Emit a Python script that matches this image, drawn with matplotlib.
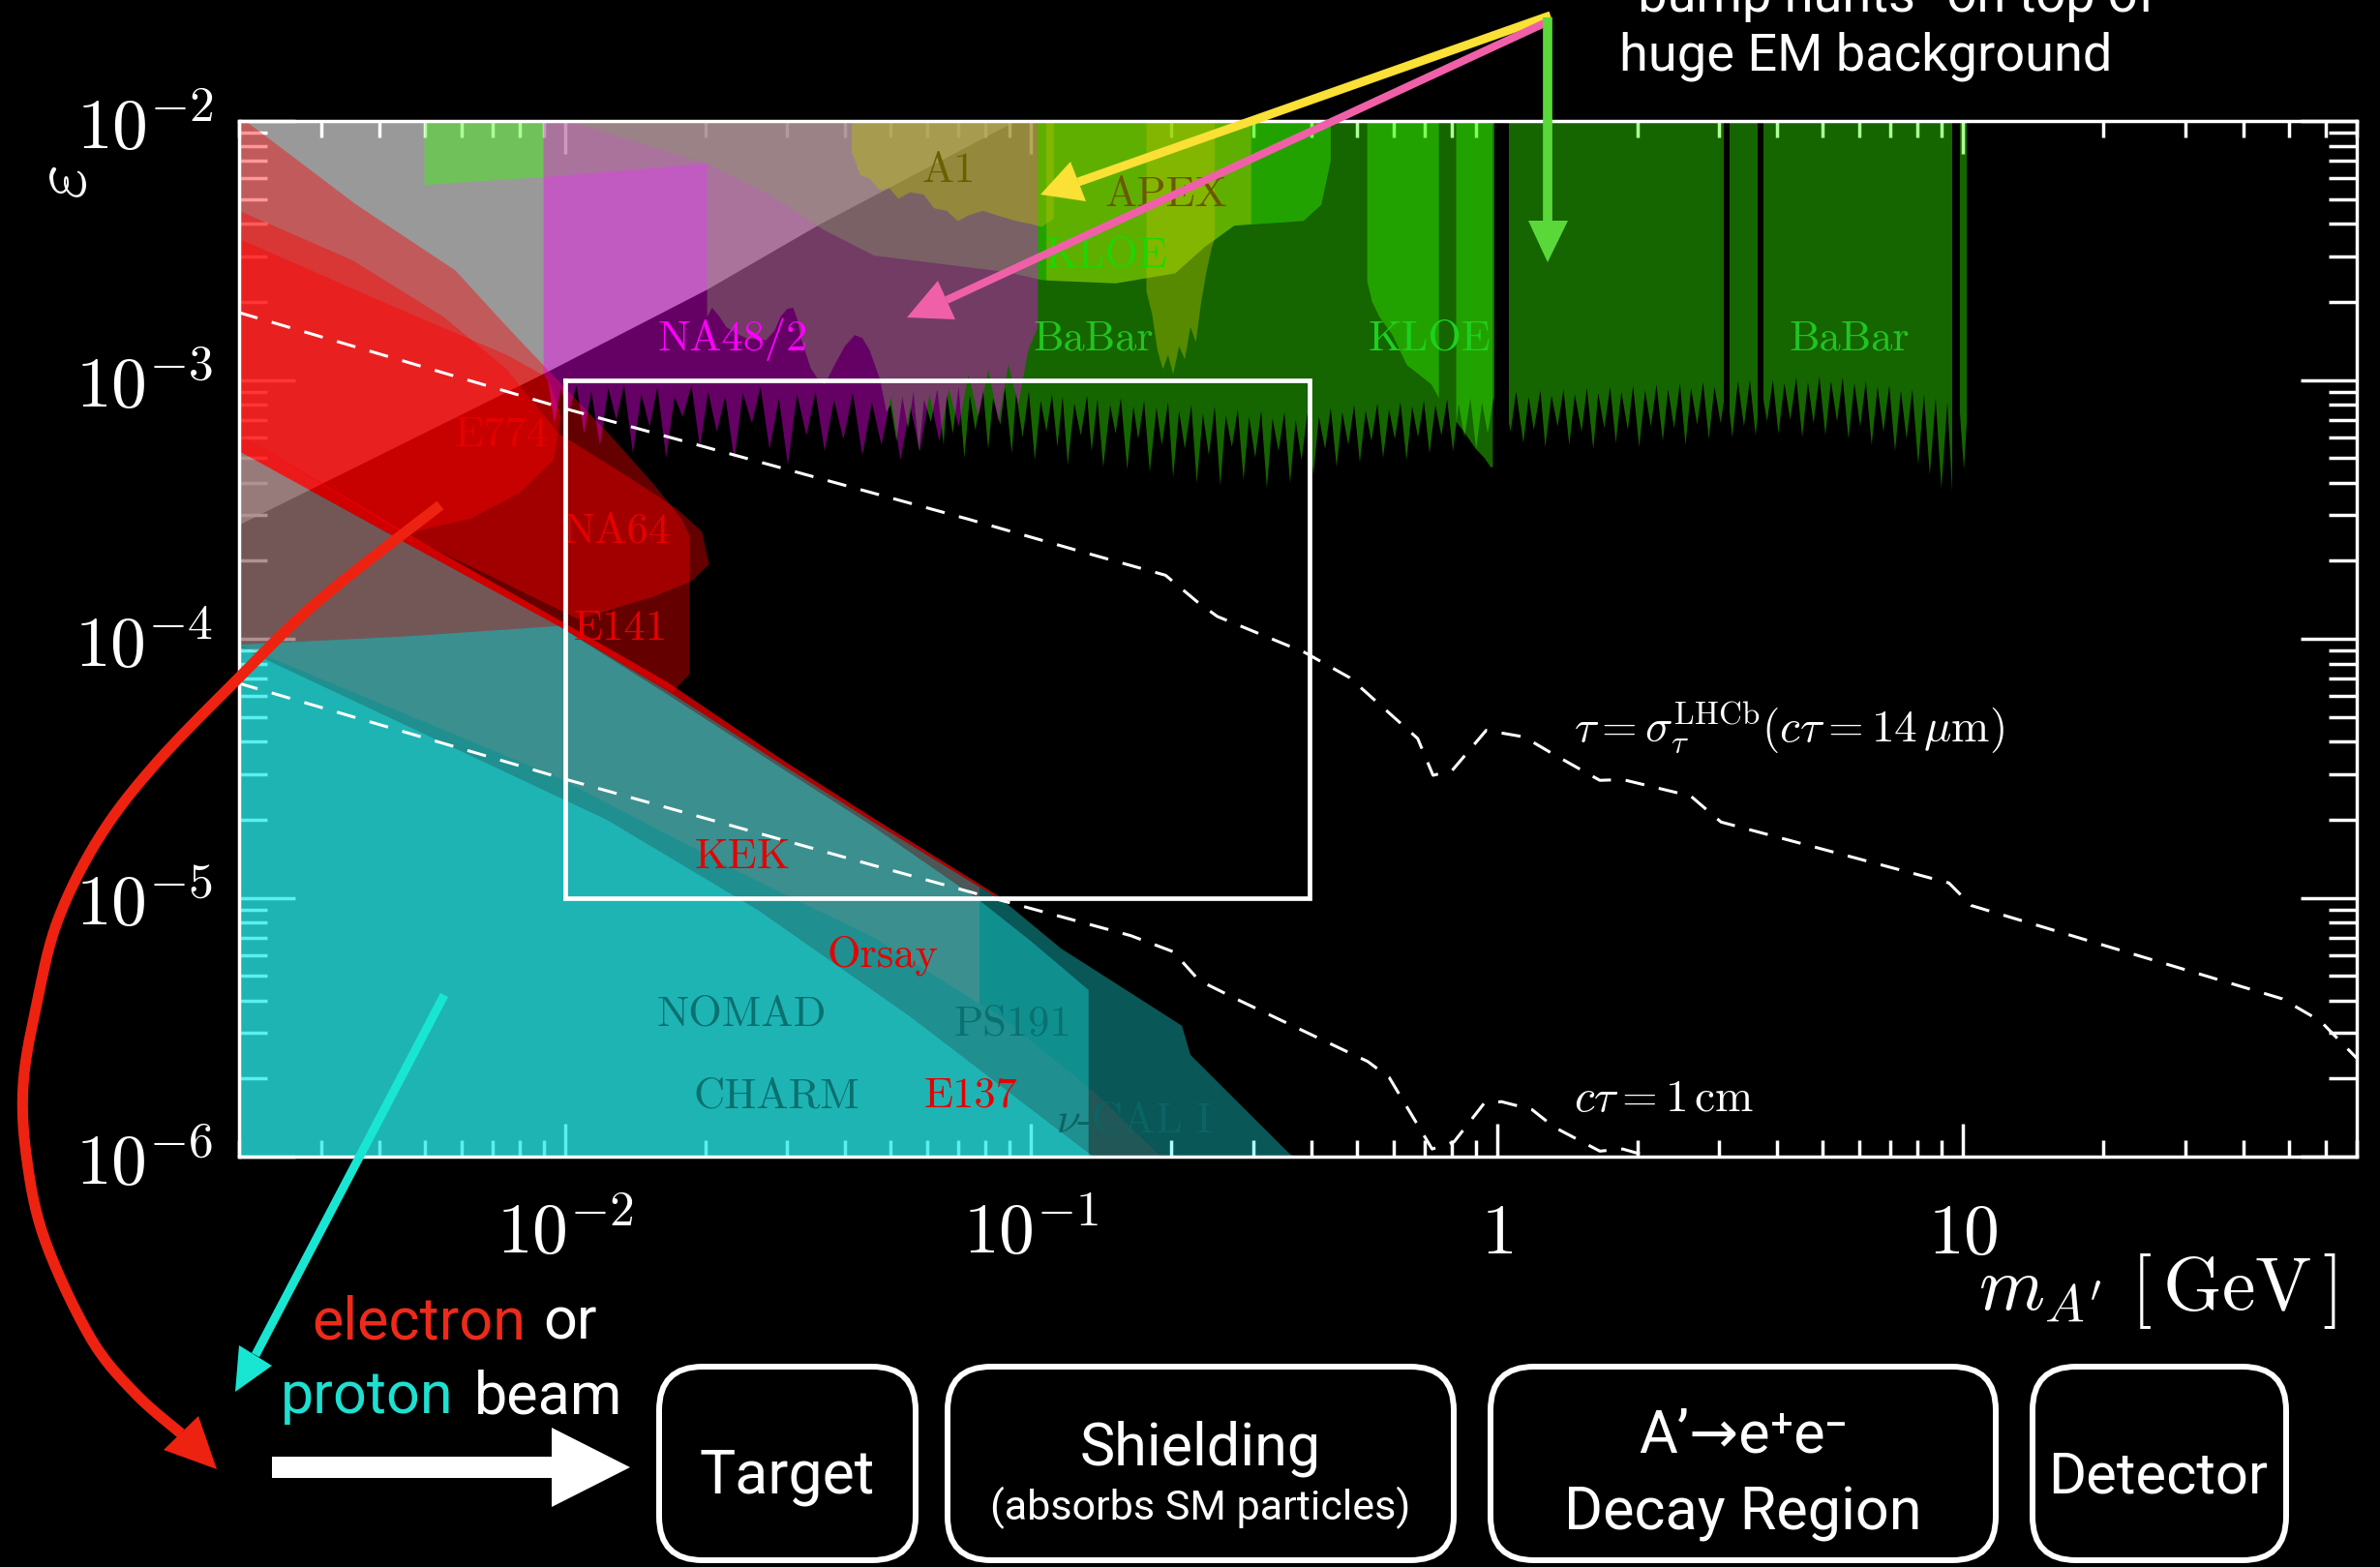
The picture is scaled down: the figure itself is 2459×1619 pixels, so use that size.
import numpy as np
import matplotlib
matplotlib.use('Agg')
import matplotlib.pyplot as plt
from matplotlib.patches import Polygon, FancyBboxPatch
from matplotlib.ticker import LogLocator, NullFormatter
from matplotlib.transforms import blended_transform_factory

W, H = 2459, 1619
plt.rcParams['mathtext.fontset'] = 'cm'
SANS = ['Roboto', 'DejaVu Sans']
WEIGHT = 'normal'

# ----------------------------------------------------------------- data
xlim = (0.002, 70)
ylim = (1e-6, 1e-2)
x_ticks = [0.01, 0.1, 1, 10]
x_tick_labels = [r'$10^{-2}$', r'$10^{-1}$', r'$1$', r'$10$']
y_ticks = [1e-6, 1e-5, 1e-4, 1e-3, 1e-2]
y_tick_labels = [r'$10^{-6}$', r'$10^{-5}$', r'$10^{-4}$', r'$10^{-3}$', r'$10^{-2}$']

# (g-2)_e grey region
ge2_m = [0.002, 0.093, 0.0887, 0.0353, 0.0202, 0.00925, 0.002]
ge2_eps = [1e-2, 1e-2, 9.55e-3, 3.99e-3, 2.23e-3, 1.08e-3, 2.75e-4]

# electron beam dumps (red)
r1_m = [0.002, 0.00209, 0.00357, 0.00582, 0.0076, 0.00925, 0.0124, 0.0154, 0.0178, 0.0185, 0.0185, 0.0170, 0.0097, 0.0045, 0.002]
r1_eps = [1e-2, 9.84e-3, 4.75e-3, 2.65e-3, 1.57e-3, 1.08e-3, 6.21e-4, 4.01e-4, 2.9e-4, 2.5e-4, 7.3e-5, 6.2e-5, 1.12e-4, 1.02e-4, 9.5e-5]
na64_m = [0.002, 0.0035, 0.0055, 0.0075, 0.0097, 0.0136, 0.0174, 0.0197, 0.0204, 0.0187, 0.0154, 0.0107, 0.0045, 0.002]
na64_eps = [4.5e-3, 2.9e-3, 1.75e-3, 1.1e-3, 6.2e-4, 4.25e-4, 3.17e-4, 2.59e-4, 1.94e-4, 1.67e-4, 1.45e-4, 1.19e-4, 2.55e-4, 6.2e-4]
e774_m = [0.002, 0.0045, 0.0075, 0.0092, 0.0098, 0.00946, 0.0080, 0.00627, 0.00456, 0.002]
e774_eps = [3.5e-3, 1.85e-3, 1.25e-3, 1.02e-3, 7.2e-4, 4.92e-4, 3.66e-4, 2.91e-4, 2.55e-4, 6.2e-4]
band_m = [0.002, 0.0045, 0.0092, 0.0166, 0.0297, 0.0461, 0.0887, 0.0887, 0.0461, 0.0297, 0.0166, 0.0097, 0.00445, 0.002]
band_eps = [6.2e-4, 2.6e-4, 1.25e-4, 6.8e-5, 3.35e-5, 2.02e-5, 9.7e-6, 9.5e-6, 1.95e-5, 3.21e-5, 6.3e-5, 1.12e-4, 2.4e-4, 5.3e-4]
rmid_m = [0.002, 0.00445, 0.0097, 0.0166, 0.0297, 0.0461, 0.0776, 0.0776, 0.0455, 0.0261, 0.0097, 0.002]
rmid_eps = [5.3e-4, 2.4e-4, 1.12e-4, 6.3e-5, 3.21e-5, 1.95e-5, 1.1e-5, 3.9e-6, 7.1e-6, 1.15e-5, 2.9e-5, 9.5e-5]
e137_m = [0.002, 0.0097, 0.0261, 0.0455, 0.0863, 0.138, 0.19, 0.002]
e137_eps = [9.5e-5, 2.9e-5, 1.15e-5, 7.1e-6, 3.48e-6, 1.75e-6, 1e-6, 1e-6]

# proton beam dumps (teal)
nucal_m = [0.002, 0.00445, 0.0097, 0.0166, 0.0297, 0.0461, 0.0887, 0.116, 0.138, 0.211, 0.22, 0.36, 0.37, 0.002]
nucal_eps = [5.3e-4, 2.4e-4, 1.12e-4, 6.3e-5, 3.21e-5, 1.95e-5, 9.5e-6, 6.37e-6, 5.22e-6, 3.2e-6, 2.47e-6, 1.02e-6, 1e-6, 1e-6]
ps191_m = [0.002, 0.0045, 0.0097, 0.0166, 0.0297, 0.0455, 0.0774, 0.100, 0.133, 0.133, 0.002]
ps191_eps = [9.5e-5, 1.02e-4, 1.12e-4, 6.1e-5, 3.1e-5, 1.9e-5, 9.8e-6, 6.8e-6, 4.4e-6, 1e-6, 1e-6]
charm_m = [0.002, 0.0123, 0.0261, 0.0551, 0.136, 0.002]
charm_eps = [9.3e-5, 2.0e-5, 8.9e-6, 3.47e-6, 1e-6, 1e-6]

# green family
amu_m = [0.005, 0.005, 0.009, 0.0202, 0.0202]
amu_eps = [1e-2, 5.66e-3, 6.07e-3, 6.85e-3, 1e-2]
curve_m = [0.0102, 0.0145, 0.0202, 0.027, 0.0361, 0.0461, 0.0887, 0.1056, 0.152, 0.204, 0.236, 0.273, 0.385, 0.42, 0.44, 0.44]
curve_eps = [1e-2, 8.2e-3, 6.85e-3, 5.3e-3, 3.78e-3, 3.02e-3, 2.61e-3, 2.43e-3, 2.36e-3, 2.58e-3, 3.26e-3, 3.94e-3, 4.11e-3, 4.75e-3, 7.0e-3, 1e-2]
kloe2a_m = [0.527, 0.527, 0.54, 0.56, 0.597, 0.641, 0.68, 0.724, 0.751, 0.751]
kloe2a_eps = [1e-2, 2.4e-3, 2.0e-3, 1.75e-3, 1.49e-3, 1.14e-3, 1.05e-3, 9.6e-4, 8.5e-4, 1e-2]
kloe2b_m = [0.818, 0.818, 0.85, 0.902, 0.94, 0.97, 0.98, 0.98]
kloe2b_eps = [1e-2, 6.9e-4, 6.3e-4, 5.4e-4, 5.0e-4, 4.6e-4, 4.6e-4, 1e-2]

babar_edge = [
    (0.0202, 1.75e-3), (0.0207, 1.9e-3), (0.0215, 1.75e-3), (0.0222, 1.6e-3), (0.0235, 1.5e-3),
    (0.0245, 1.45e-3), (0.0270, 1.42e-3), (0.0282, 1.55e-3), (0.0290, 1.75e-3), (0.0300, 1.88e-3),
    (0.0309, 1.9e-3), (0.0316, 1.7e-3), (0.0321, 1.45e-3), (0.0337, 1.11e-3), (0.0350, 1.0e-3),
    (0.0361, 9.6e-4), (0.0380, 1.15e-3), (0.0399, 1.35e-3), (0.0419, 1.49e-3), (0.0435, 1.45e-3),
    (0.0451, 1.3e-3), (0.0475, 1.0e-3), (0.0490, 7.5e-4),
    (0.050, 8.0e-4), (0.0515, 5.8e-4), (0.053, 8.6e-4), (0.0545, 6.5e-4), (0.056, 9.0e-4),
    (0.0575, 5.3e-4), (0.059, 8.4e-4), (0.061, 6.9e-4), (0.063, 9.2e-4), (0.065, 5.6e-4),
    (0.066, 8.8e-4), (0.068, 6.2e-4), (0.070, 9.4e-4), (0.072, 5.0e-4), (0.074, 8.7e-4),
    (0.076, 6.4e-4), (0.079, 9.1e-4), (0.081, 5.4e-4), (0.083, 8.5e-4), (0.086, 6.7e-4),
    (0.088, 9.3e-4), (0.091, 5.2e-4), (0.093, 8.9e-4), (0.096, 6.0e-4), (0.099, 9.0e-4),
    (0.102, 4.9e-4), (0.105, 8.3e-4), (0.108, 6.3e-4), (0.111, 8.8e-4), (0.114, 5.5e-4),
    (0.117, 8.6e-4), (0.120, 4.7e-4), (0.124, 8.1e-4), (0.128, 6.1e-4), (0.132, 8.7e-4),
    (0.135, 5.3e-4), (0.139, 8.4e-4), (0.143, 4.6e-4), (0.148, 8.0e-4), (0.152, 6.2e-4),
    (0.156, 8.5e-4), (0.161, 4.5e-4), (0.166, 7.9e-4), (0.170, 5.9e-4), (0.175, 8.3e-4),
    (0.180, 4.4e-4), (0.186, 7.8e-4), (0.191, 5.6e-4), (0.197, 8.2e-4), (0.202, 4.2e-4),
    (0.208, 7.6e-4), (0.214, 5.4e-4), (0.221, 8.0e-4), (0.227, 4.0e-4), (0.234, 7.4e-4),
    (0.241, 5.1e-4), (0.248, 7.9e-4), (0.255, 3.9e-4), (0.262, 7.3e-4), (0.270, 5.5e-4),
    (0.278, 7.7e-4), (0.286, 4.1e-4), (0.294, 7.2e-4), (0.303, 5.0e-4), (0.312, 7.6e-4),
    (0.321, 3.8e-4), (0.330, 7.1e-4), (0.340, 5.3e-4), (0.350, 7.5e-4), (0.360, 4.0e-4),
    (0.370, 7.0e-4), (0.381, 4.9e-4), (0.392, 7.4e-4), (0.404, 4.3e-4), (0.415, 7.2e-4),
    (0.428, 5.4e-4), (0.440, 7.8e-4), (0.453, 4.6e-4), (0.466, 7.5e-4), (0.480, 5.6e-4),
    (0.494, 8.0e-4), (0.508, 4.8e-4), (0.523, 7.6e-4), (0.538, 5.8e-4), (0.554, 8.1e-4),
    (0.570, 5.0e-4), (0.587, 7.7e-4), (0.604, 5.9e-4), (0.621, 8.2e-4), (0.640, 4.9e-4),
    (0.658, 7.9e-4), (0.677, 6.0e-4), (0.697, 8.3e-4), (0.717, 5.2e-4), (0.738, 8.0e-4),
    (0.760, 6.1e-4), (0.782, 8.4e-4), (0.805, 5.3e-4), (0.828, 8.1e-4), (0.852, 6.0e-4),
    (0.877, 8.5e-4), (0.903, 5.4e-4), (0.929, 8.2e-4), (0.956, 6.2e-4), (0.984, 8.6e-4),
    (1.013, 5.6e-4), (1.04, 8.4e-4), (1.07, 6.3e-4), (1.10, 9.0e-4), (1.14, 5.7e-4),
    (1.17, 8.6e-4), (1.20, 6.4e-4), (1.24, 9.1e-4), (1.27, 5.5e-4), (1.31, 8.7e-4),
    (1.35, 6.6e-4), (1.39, 9.2e-4), (1.43, 5.6e-4), (1.47, 8.8e-4), (1.52, 6.3e-4),
    (1.56, 9.3e-4), (1.61, 5.4e-4), (1.65, 8.9e-4), (1.70, 6.5e-4), (1.75, 9.4e-4),
    (1.80, 5.7e-4), (1.85, 9.0e-4), (1.91, 6.4e-4), (1.96, 9.5e-4), (2.02, 5.5e-4),
    (2.08, 9.1e-4), (2.14, 6.6e-4), (2.20, 9.6e-4), (2.27, 5.8e-4), (2.33, 9.2e-4),
    (2.40, 6.5e-4), (2.47, 9.7e-4), (2.54, 5.6e-4), (2.61, 9.3e-4), (2.69, 6.7e-4),
    (2.77, 9.8e-4), (2.85, 5.9e-4), (2.93, 9.4e-4), (3.02, 6.8e-4), (3.11, 9.6e-4),
    (3.20, 6.0e-4), (3.29, 9.9e-4), (3.39, 6.6e-4), (3.49, 1.0e-3), (3.59, 6.1e-4),
    (3.69, 9.5e-4), (3.80, 6.9e-4), (3.91, 1.0e-3), (4.02, 6.2e-4), (4.14, 9.7e-4),
    (4.26, 7.0e-4), (4.39, 1.02e-3), (4.52, 6.0e-4), (4.65, 9.8e-4), (4.78, 6.8e-4),
    (4.92, 1.03e-3), (5.07, 6.1e-4), (5.21, 9.9e-4), (5.37, 6.9e-4), (5.52, 1.02e-3),
    (5.68, 5.9e-4), (5.85, 9.7e-4), (6.02, 6.6e-4), (6.19, 9.9e-4), (6.37, 5.6e-4),
    (6.56, 9.4e-4), (6.75, 6.3e-4), (6.95, 9.5e-4), (7.15, 5.3e-4), (7.36, 9.1e-4),
    (7.57, 5.9e-4), (7.79, 9.2e-4), (8.02, 4.7e-4), (8.25, 8.8e-4), (8.49, 4.3e-4),
    (8.74, 8.5e-4), (8.99, 3.8e-4), (9.26, 8.2e-4), (9.50, 3.5e-4), (9.85, 7.5e-4),
    (10.05, 4.5e-4), (10.2, 7.0e-4),
]
babar_gaps = [(0.99, 1.06), (3.07, 3.15), (3.63, 3.74), (9.5, 9.85)]

na48_edge = [
    (0.0092, 1.0e-3), (0.0095, 6.8e-4), (0.0098, 9.2e-4), (0.0102, 7.5e-4), (0.0106, 9.5e-4),
    (0.0110, 6.2e-4), (0.0114, 9.0e-4), (0.0119, 5.6e-4), (0.0124, 9.3e-4), (0.0129, 7.0e-4),
    (0.0134, 9.6e-4), (0.0140, 5.2e-4), (0.0146, 8.8e-4), (0.0152, 6.6e-4), (0.0158, 9.4e-4),
    (0.0165, 5.0e-4), (0.0172, 8.6e-4), (0.0179, 7.2e-4), (0.0187, 9.5e-4), (0.0195, 5.5e-4),
    (0.0203, 9.0e-4), (0.0212, 6.3e-4), (0.0221, 8.7e-4), (0.0231, 4.9e-4), (0.0241, 8.9e-4),
    (0.0252, 6.8e-4), (0.0263, 9.4e-4), (0.0275, 5.4e-4), (0.0288, 8.5e-4), (0.0301, 4.7e-4),
    (0.0315, 8.8e-4), (0.0330, 6.1e-4), (0.0345, 9.0e-4), (0.0361, 5.3e-4), (0.0378, 8.4e-4),
    (0.0396, 5.9e-4), (0.0415, 8.9e-4), (0.0435, 5.1e-4), (0.0456, 8.2e-4), (0.0478, 5.6e-4),
    (0.0501, 8.6e-4), (0.0525, 4.9e-4), (0.0551, 7.9e-4), (0.0578, 5.3e-4), (0.0606, 8.8e-4),
    (0.0636, 5.8e-4), (0.0667, 9.2e-4), (0.0700, 6.6e-4), (0.0735, 1.05e-3), (0.0772, 7.2e-4),
    (0.0811, 1.1e-3), (0.0852, 6.9e-4), (0.0895, 1.15e-3), (0.0940, 8.0e-4), (0.0987, 1.3e-3),
    (0.1035, 1.6e-3),
]

# yellow family
a1_m = [0.0413, 0.0413, 0.0419, 0.0430, 0.0450, 0.0475, 0.0497, 0.0520, 0.0550, 0.0589, 0.0620,
        0.0660, 0.0698, 0.0730, 0.0789, 0.0853, 0.0935, 0.1000, 0.1056, 0.112, 0.112]
a1_eps = [1e-2, 7.5e-3, 7.1e-3, 6.2e-3, 6.0e-3, 5.4e-3, 5.5e-3, 5.0e-3, 5.3e-3, 5.2e-3, 4.6e-3,
          4.5e-3, 4.1e-3, 4.3e-3, 4.5e-3, 4.3e-3, 4.1e-3, 4.0e-3, 3.9e-3, 4.2e-3, 1e-2]
kloe1_m = [0.108, 0.108, 0.152, 0.204, 0.236, 0.273, 0.297, 0.297]
kloe1_eps = [1e-2, 2.42e-3, 2.36e-3, 2.58e-3, 3.26e-3, 3.94e-3, 4.0e-3, 1e-2]
apex_m = [0.177, 0.177, 0.182, 0.187, 0.192, 0.197, 0.202, 0.208, 0.214, 0.220, 0.226, 0.232,
          0.238, 0.244, 0.248, 0.248]
apex_eps = [1e-2, 2.2e-3, 1.8e-3, 1.3e-3, 1.1e-3, 1.25e-3, 1.05e-3, 1.35e-3, 1.2e-3, 1.6e-3,
            1.4e-3, 2.0e-3, 2.6e-3, 3.2e-3, 3.5e-3, 1e-2]

# white box and lifetime contours
rect_m = [0.01, 0.397]
rect_eps = [1e-5, 1e-3]
tau_m = [0.002, 0.00982, 0.0733, 0.1285, 0.1945, 0.2275, 0.2512, 0.3873, 0.4831, 0.6761, 0.7295,
         0.8017, 0.9484, 1.143, 1.327, 1.663, 1.862, 2.606, 3.027, 9.333, 10.42, 48.42, 58.48, 70]
tau_eps = [1.82e-3, 7.82e-4, 2.90e-4, 2.17e-4, 1.76e-4, 1.39e-4, 1.22e-4, 8.85e-5, 7.08e-5, 4.12e-5,
           2.97e-5, 3.10e-5, 4.43e-5, 4.18e-5, 3.57e-5, 2.84e-5, 2.86e-5, 2.47e-5, 1.96e-5, 1.14e-5,
           9.33e-6, 4.07e-6, 3.34e-6, 2.4e-6]
ctau_m = [0.002, 0.00995, 0.0455, 0.0759, 0.1637, 0.2023, 0.2296, 0.2786, 0.5284, 0.5875, 0.7261,
          0.8091, 0.9397, 1.023, 1.189, 1.327, 1.663, 1.862, 2.084, 2.606]
ctau_eps = [6.73e-5, 2.88e-5, 1.34e-5, 1.04e-5, 7.14e-6, 6.18e-6, 4.79e-6, 4.03e-6, 2.33e-6, 2.02e-6,
            1.07e-6, 1.14e-6, 1.61e-6, 1.63e-6, 1.52e-6, 1.30e-6, 1.05e-6, 1.07e-6, 1.01e-6, 9.1e-7]

region_labels = [
    ('A1', 0.0667, 6.38e-3, '#6b6000'),
    ('APEX', 0.195, 5.15e-3, '#6b5800'),
    ('KLOE', 0.145, 3.02e-3, '#22d400'),
    ('BaBar', 0.136, 1.43e-3, '#22c41e'),
    ('KLOE', 0.716, 1.43e-3, '#1ed01e'),
    ('BaBar', 5.71, 1.43e-3, '#20c420'),
    ('NA48/2', 0.0229, 1.43e-3, '#ff00ff'),
    ('E774', 0.00733, 6.1e-4, '#e60000'),
    ('NA64', 0.01294, 2.59e-4, '#e60000'),
    ('E141', 0.01315, 1.09e-4, '#e60000'),
    ('KEK', 0.0241, 1.43e-5, '#e60000'),
    ('Orsay', 0.0482, 6.0e-6, '#e60000'),
    ('NOMAD', 0.0240, 3.52e-6, '#0a7070'),
    ('CHARM', 0.0285, 1.70e-6, '#0a7070'),
    ('E137', 0.0743, 1.71e-6, '#e60000'),
    ('PS191', 0.0914, 3.24e-6, '#0a7070'),
    (r'$\nu$-CAL I', 0.1667, 1.37e-6, '#0b6464'),
]

# ----------------------------------------------------------------- figure
fig = plt.figure(figsize=(W / 100, H / 100), dpi=100, facecolor='black')
ax = fig.add_axes([247 / W, 1 - 1195 / H, (2435 - 247) / W, (1195 - 125) / H])
ax.set_facecolor('black')
ax.set_xscale('log')
ax.set_yscale('log')
ax.set_xlim(*xlim)
ax.set_ylim(*ylim)


def region(m, e, color, alpha, z):
    ax.fill(m, e, facecolor=color, alpha=alpha, edgecolor='none', lw=0, zorder=z)


RED, TEAL, GREEN, MAG, YEL = '#ff0000', '#1efafa', '#37ff00', '#ff00ff', '#bbc300'

region(ge2_m, ge2_eps, '#999999', 1.0, 1)
for m, e in [(r1_m, r1_eps), (na64_m, na64_eps), (e774_m, e774_eps), (rmid_m, rmid_eps)]:
    region(m, e, RED, 0.4, 2)
region(e137_m, e137_eps, RED, 0.15, 2)
region(band_m, band_eps, RED, 0.7, 2)
for m, e in [(nucal_m, nucal_eps), (ps191_m, ps191_eps), (charm_m, charm_eps)]:
    region(m, e, TEAL, 0.35, 3)

bm = [babar_edge[0][0]] + [p[0] for p in babar_edge] + [babar_edge[-1][0]]
be = [1e-2] + [p[1] for p in babar_edge] + [1e-2]
region(bm, be, GREEN, 0.4, 4)
for m, e in [(amu_m, amu_eps), (curve_m, curve_eps), (kloe2a_m, kloe2a_eps), (kloe2b_m, kloe2b_eps)]:
    region(m, e, GREEN, 0.4, 4)
for lo, hi in babar_gaps:
    ax.fill([lo, hi, hi, lo], [3e-4, 3e-4, 1e-2, 1e-2], facecolor='black', edgecolor='none', lw=0, zorder=4.5)

nm = [0.009, 0.009] + [p[0] for p in na48_edge] + [na48_edge[-1][0]]
ne = [1e-2, 1.05e-3] + [p[1] for p in na48_edge] + [1e-2]
region(nm, ne, MAG, 0.4, 5)

for m, e in [(a1_m, a1_eps), (kloe1_m, kloe1_eps), (apex_m, apex_eps)]:
    region(m, e, YEL, 0.4, 6)

for txt, m, e, c in region_labels:
    ax.text(m, e, txt, ha='center', va='center', fontsize=32, color=c,
            family='cmr10', zorder=7)

ax.plot([rect_m[0], rect_m[1], rect_m[1], rect_m[0], rect_m[0]],
        [rect_eps[1], rect_eps[1], rect_eps[0], rect_eps[0], rect_eps[1]],
        color='white', lw=3.4, zorder=8, solid_joinstyle='miter')
ax.plot(tau_m, tau_eps, color='white', lw=2.2, dashes=(6.5, 5), zorder=8)
ax.plot(ctau_m, ctau_eps, color='white', lw=2.2, dashes=(6.5, 5), zorder=8)
ax.text(1.459, 4.53e-5, r'$\tau = \sigma_\tau^{\mathrm{LHCb}}(c\tau = 14\,\mu\mathrm{m})$',
        color='white', fontsize=34, ha='left', va='center', zorder=8)
ax.text(1.459, 1.67e-6, r'$c\tau = 1\,\mathrm{cm}$', color='white', fontsize=34,
        ha='left', va='center', zorder=8)

# axes styling
for s in ax.spines.values():
    s.set_color('white')
    s.set_linewidth(2.5)
    s.set_zorder(9)
ax.set_yticks(y_ticks)
ax.set_yticklabels(y_tick_labels)
ax.yaxis.set_minor_locator(LogLocator(base=10, subs=np.arange(2, 10), numticks=50))
ax.yaxis.set_minor_formatter(NullFormatter())
ax.set_xticks(x_ticks)
ax.set_xticklabels([])
ax.xaxis.set_minor_locator(LogLocator(base=10, subs=np.arange(2, 10), numticks=50))
ax.xaxis.set_minor_formatter(NullFormatter())
ax.tick_params(axis='both', which='both', direction='in', colors='white', width=2.5,
               top=True, right=True, zorder=9)
ax.tick_params(axis='y', which='major', length=42, labelsize=53, pad=19)
ax.tick_params(axis='y', which='minor', length=21)
ax.tick_params(axis='x', which='major', length=24.5, labelbottom=False)
ax.tick_params(axis='x', which='minor', length=12)
tr = blended_transform_factory(ax.transData, ax.transAxes)
for xv, lab in zip(x_ticks, x_tick_labels):
    ax.text(xv, -0.0935, lab, transform=tr, ha='center', va='baseline', fontsize=53,
            color='white', clip_on=False)

# ----------------------------------------------------------------- overlay (pixels, y down)
ov = fig.add_axes([0, 0, 1, 1], zorder=10)
ov.set_xlim(0, W)
ov.set_ylim(H, 0)
ov.axis('off')
ov.patch.set_alpha(0)

ov.text(2414, 1353, r'$m_{A^{\prime}}\ [\,\mathrm{GeV}\,]$', color='white', fontsize=56,
        ha='right', va='baseline')
ov.text(66, 188, r'$\varepsilon$', color='white', fontsize=56, rotation=90,
        ha='center', va='center')


def catmull(pts, n=16):
    P = np.asarray(pts, float)
    P = np.vstack([P[0], P, P[-1]])
    out = []
    for i in range(1, len(P) - 2):
        p0, p1, p2, p3 = P[i - 1], P[i], P[i + 1], P[i + 2]
        for t in np.linspace(0, 1, n, endpoint=False):
            out.append(0.5 * (2 * p1 + (-p0 + p2) * t + (2 * p0 - 5 * p1 + 4 * p2 - p3) * t * t
                              + (-p0 + 3 * p1 - 3 * p2 + p3) * t ** 3))
    out.append(P[-2])
    return np.array(out)


def arrow(pts, head, color, lw):
    pts = np.asarray(pts, float)
    ov.plot(pts[:, 0], pts[:, 1], color=color, lw=lw, solid_capstyle='butt', clip_on=False)
    ov.add_patch(Polygon(head, closed=True, facecolor=color, edgecolor='none', clip_on=False))


red_path = catmull([(455, 522), (330, 620), (247, 700), (160, 790), (102, 866), (60, 950),
                    (39, 1032), (24, 1120), (28, 1200), (47, 1283), (94, 1383), (140, 1440),
                    (187, 1481)])
arrow(red_path, [(224, 1518), (169, 1498), (205, 1463)], '#ee2211', 8)
arrow([(459, 1028), (264, 1400)], [(243, 1438), (247, 1390), (281, 1411)], '#19e6d2', 6.5)
arrow([(1602, 16), (1114, 188)], [(1075, 201), (1106, 167), (1122, 208)], '#fbe035', 6.5)
arrow([(1600, 22), (978, 310)], [(937, 328), (969, 290), (987, 330)], '#f060a8', 5.8)
arrow([(1599, 18), (1599, 228)], [(1599, 271), (1579, 228), (1620, 228)], '#5ad83a', 7)

ov.text(1673, 12, '\u201cbump hunts\u201d on top of', color='white', fontsize=39,
        family=SANS, fontweight=WEIGHT, ha='left', va='baseline')
ov.text(1673, 73, 'huge EM background', color='white', fontsize=39,
        family=SANS, fontweight=WEIGHT, ha='left', va='baseline')

ov.text(322, 1383, 'electron', color='#ee2a1a', fontsize=44, family=SANS, fontweight=WEIGHT,
        ha='left', va='baseline')
ov.text(561, 1383, 'or', color='white', fontsize=44, family=SANS, fontweight=WEIGHT,
        ha='left', va='baseline')
ov.text(290, 1460, 'proton', color='#1de0d0', fontsize=44, family=SANS, fontweight=WEIGHT,
        ha='left', va='baseline')
ov.text(490, 1460, 'beam', color='white', fontsize=44, family=SANS, fontweight=WEIGHT,
        ha='left', va='baseline')

ov.add_patch(Polygon([(281, 1505), (570, 1505), (570, 1475), (651, 1516), (570, 1557),
                      (570, 1527), (281, 1527)], closed=True, facecolor='white',
                     edgecolor='none', clip_on=False))

boxes = [(681, 265), (979, 523), (1540, 522), (2100, 262)]
for x0, w in boxes:
    ov.add_patch(FancyBboxPatch((x0, 1412), w, 200, boxstyle='round,pad=0,rounding_size=45',
                                fill=False, edgecolor='white', lw=4.3, clip_on=False))

ov.text(813, 1542, 'Target', color='white', fontsize=45, family=SANS, fontweight=WEIGHT,
        ha='center', va='baseline')
ov.text(1240, 1513, 'Shielding', color='white', fontsize=44, family=SANS, fontweight=WEIGHT,
        ha='center', va='baseline')
ov.text(1240, 1570, '(absorbs SM particles)', color='white', fontsize=31, family=SANS,
        fontweight=WEIGHT, ha='center', va='baseline')
ov.text(1801, 1500, 'A\u2019\u2192e\u207ae\u207b', color='white', fontsize=44, family=SANS,
        fontweight=WEIGHT, ha='center', va='baseline')
ov.text(1801, 1580, 'Decay Region', color='white', fontsize=44, family=SANS, fontweight=WEIGHT,
        ha='center', va='baseline')
ov.text(2230, 1542, 'Detector', color='white', fontsize=43, family=SANS, fontweight=WEIGHT,
        ha='center', va='baseline')

fig.savefig('out.png', dpi=100, facecolor='black')
